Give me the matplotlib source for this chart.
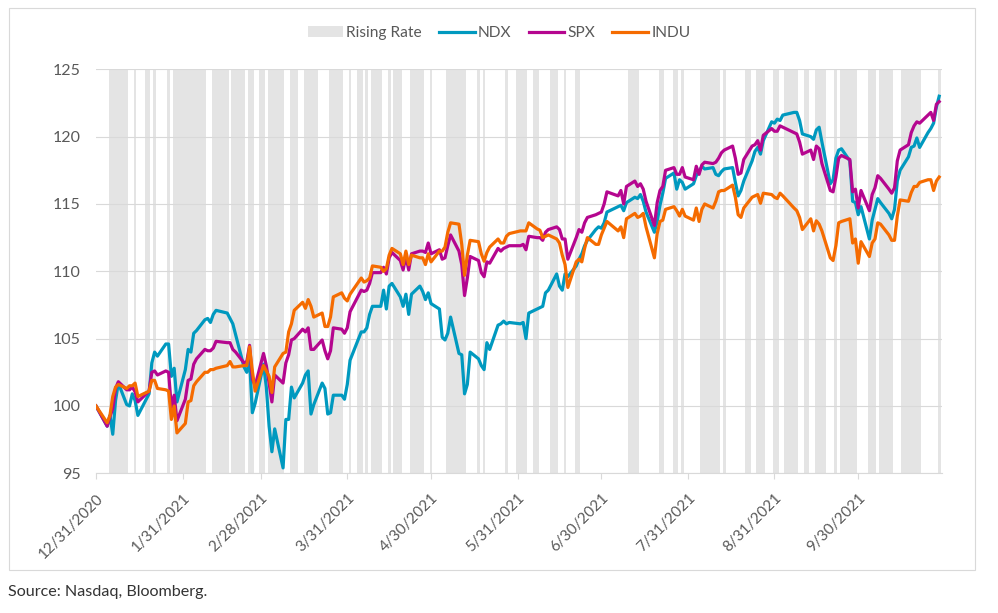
import pandas as pd
import matplotlib
matplotlib.use("Agg")
import matplotlib.pyplot as plt
from matplotlib.patches import Patch, Rectangle
from matplotlib.lines import Line2D

plt.rcParams['font.family'] = ['Lato', 'DejaVu Sans']

# trading days: 12/31/2020 then 2021 business days without market holidays
holidays = ["2021-01-18", "2021-02-15", "2021-04-02", "2021-05-31",
            "2021-07-05", "2021-09-06"]
dates = pd.bdate_range("2021-01-04", "2021-10-29")
dates = dates[~dates.isin(pd.to_datetime(holidays))]
dates = dates.insert(0, pd.Timestamp("2020-12-31"))

# index levels, 12/31/2020 = 100
ndx = [100.0,
       98.5, 99.3, 97.9, 100.4, 101.7, 100.1, 100.0, 100.9, 100.4, 99.3,
       100.9, 103.2, 104.0, 103.7, 104.6, 104.6, 102.2, 102.8, 100.3,
       102.7, 104.2, 104.0, 105.4, 105.6, 106.4, 106.5, 106.2, 106.8, 107.1,
       106.9, 106.5, 106.1, 105.3, 102.9, 102.5, 103.4, 99.5, 100.2,
       103.1, 101.4, 98.5, 96.6, 98.3, 95.4, 99.0, 99.0, 101.4, 100.6,
       101.7, 102.3, 102.6, 99.4, 100.1, 101.7, 101.3, 99.4, 99.5, 100.8,
       100.8, 100.5, 101.6,
       103.4, 105.5, 105.5, 105.8, 106.8, 107.4, 107.4, 108.6, 107.2, 108.9,
       109.1, 108.1, 107.4, 108.3, 106.8, 108.3, 108.9, 108.5, 107.9, 108.4,
       107.6,
       107.2, 105.1, 104.9, 105.4, 106.6, 103.9, 103.8, 100.9, 101.6, 104.0,
       103.5, 103.0, 102.7, 104.7, 104.2, 106.0, 106.1, 106.3, 106.1, 106.2,
       106.1, 106.2, 105.0, 106.9, 107.2, 107.3, 107.4, 108.4, 108.6, 109.8,
       108.9, 108.6, 109.8, 109.6, 110.4, 110.9, 111.3, 111.9, 112.3, 113.1,
       113.3, 113.2,
       113.6, 114.4, 114.8, 114.9, 114.5, 115.1, 115.5, 115.4, 115.7, 115.2,
       114.4, 112.9, 113.7, 114.9, 115.8, 116.9, 117.3, 116.1, 116.8, 116.6,
       116.1,
       116.5, 117.1, 117.4, 117.8, 117.6, 117.7, 117.2, 117.1, 117.4, 117.6,
       117.7, 116.6, 115.6, 116.0, 116.7, 118.2, 118.9, 119.2, 118.7, 119.7,
       121.1, 121.0,
       121.3, 121.2, 121.6, 121.8, 121.8, 121.2, 120.2, 120.0, 119.8, 120.5,
       120.7, 119.6, 116.5, 116.8, 118.4, 119.0, 119.1, 118.2, 115.2, 115.1,
       114.2,
       114.8, 112.4, 113.8, 114.6, 115.4, 115.1, 114.3, 113.9, 114.6, 116.7,
       117.5, 118.5, 119.2, 119.3, 119.9, 119.2, 120.3, 120.6, 121.0, 122.2,
       123.0]

spx = [100.0,
       98.5, 99.2, 99.8, 101.3, 101.8, 101.2, 101.2, 101.4, 101.05, 100.3,
       101.1, 102.5, 102.6, 102.3, 102.6, 102.5, 99.9, 100.8, 98.9,
       100.5, 101.9, 102.0, 103.1, 103.5, 104.2, 104.1, 104.1, 104.3, 104.8,
       104.7, 104.7, 104.2, 104.0, 103.2, 103.3, 104.5, 102.0, 101.5,
       103.9, 103.0, 101.7, 100.3, 102.3, 101.7, 103.2, 103.8, 104.9, 105.0,
       105.7, 105.5, 105.8, 104.2, 104.2, 104.9, 104.1, 103.5, 104.1, 105.8,
       105.7, 105.4, 105.8,
       107.0, 108.6, 108.5, 108.6, 109.1, 109.9, 109.9, 110.3, 109.8, 111.0,
       111.4, 110.8, 110.1, 111.1, 110.1, 111.3, 111.5, 111.5, 111.4, 112.1,
       111.3,
       111.6, 110.9, 111.0, 111.9, 112.7, 111.5, 110.5, 108.2, 109.5, 111.1,
       110.8, 109.9, 109.6, 110.7, 110.6, 111.7, 111.5, 111.7, 111.8, 111.9,
       111.9, 112.0, 111.6, 112.6, 112.5, 112.5, 112.3, 112.9, 113.1, 113.3,
       113.1, 112.4, 112.4, 110.9, 112.5, 113.1, 112.9, 113.6, 114.0, 114.2,
       114.3, 114.4,
       115.0, 115.9, 115.6, 116.0, 115.0, 116.3, 116.7, 116.3, 116.5, 116.1,
       115.2, 113.4, 115.1, 116.0, 116.3, 117.5, 117.7, 117.2, 117.2, 117.7,
       117.0,
       116.8, 117.8, 117.2, 117.9, 118.1, 118.0, 118.1, 118.4, 118.8, 119.0,
       119.3, 118.4, 117.2, 117.3, 118.3, 119.3, 119.4, 119.7, 119.0, 120.1,
       120.6, 120.4,
       120.4, 120.8, 120.7, 120.3, 120.2, 119.6, 118.7, 119.0, 118.3, 119.3,
       119.1, 118.0, 116.0, 115.9, 117.0, 118.4, 118.6, 118.3, 115.9, 116.1,
       114.7,
       116.0, 114.5, 115.7, 116.2, 117.1, 116.9, 116.1, 115.8, 116.2, 118.2,
       119.0, 119.4, 120.3, 120.8, 121.1, 121.0, 121.6, 121.8, 121.2, 122.4,
       122.6]

indu = [100.0,
        98.75, 99.3, 100.7, 101.4, 101.6, 101.3, 101.5, 101.5, 101.7, 100.7,
        101.1, 101.9, 101.9, 101.3, 101.2, 101.1, 99.0, 100.0, 98.0,
        98.7, 100.3, 100.4, 101.5, 101.8, 102.5, 102.5, 102.7, 102.7, 102.8,
        103.0, 103.3, 102.9, 102.9, 103.0, 103.0, 104.4, 102.6, 101.1,
        103.0, 102.6, 102.2, 101.0, 102.9, 103.9, 104.0, 105.5, 106.1, 107.1,
        107.7, 107.25, 107.9, 107.4, 106.6, 106.9, 105.9, 105.9, 106.6, 108.1,
        108.4, 108.0, 107.8,
        108.3, 109.5, 109.2, 109.3, 109.5, 110.4, 110.3, 110.0, 110.2, 111.2,
        111.7, 111.3, 110.5, 111.5, 110.5, 111.2, 111.0, 111.0, 110.5, 111.3,
        110.7,
        111.5, 111.5, 111.8, 112.9, 113.6, 113.5, 112.0, 109.7, 111.2, 112.3,
        112.2, 111.3, 110.75, 111.4, 111.8, 112.4, 112.1, 112.1, 112.6, 112.8,
        113.0, 113.0, 113.0, 113.6, 113.15, 113.05, 112.5, 112.6, 112.7, 112.4,
        112.1, 111.2, 110.5, 108.8, 110.7, 110.9, 110.7, 111.7, 112.5, 112.0,
        112.0, 112.7,
        113.2, 113.7, 113.0, 113.3, 112.5, 113.9, 114.3, 114.0, 114.1, 114.3,
        113.3, 111.0, 112.8, 113.7, 113.8, 114.6, 114.8, 114.5, 114.1, 114.6,
        114.1,
        113.8, 114.7, 113.7, 114.6, 115.0, 114.7, 115.2, 115.9, 116.0, 116.0,
        116.4, 115.5, 114.2, 114.0, 114.7, 115.5, 115.6, 115.7, 115.05, 115.8,
        115.7, 115.5,
        115.4, 115.8, 115.6, 114.7, 114.5, 114.0, 113.1, 113.9, 113.0, 113.75,
        113.5, 113.0, 111.0, 110.8, 111.9, 113.6, 113.7, 113.9, 112.1, 112.4,
        110.6,
        112.2, 111.1, 112.1, 112.4, 113.6, 113.5, 112.7, 112.3, 112.3, 114.1,
        115.3, 115.2, 115.85, 116.3, 116.3, 116.6, 116.8, 116.8, 116.0, 116.7,
        117.0]

# rising rate periods (first day, last day)
rising_start = ["2021-01-05", "2021-01-14", "2021-01-18", "2021-01-21", "2021-01-26",
                "2021-01-28", "2021-02-11", "2021-02-18", "2021-02-24", "2021-02-28",
                "2021-03-03", "2021-03-11", "2021-03-16", "2021-03-25", "2021-04-01",
                "2021-04-04", "2021-04-07", "2021-04-09", "2021-04-15", "2021-04-17",
                "2021-04-23", "2021-04-30", "2021-05-06", "2021-05-17", "2021-05-19",
                "2021-05-27", "2021-05-31", "2021-06-06", "2021-06-12", "2021-06-17",
                "2021-06-21", "2021-07-10", "2021-07-21", "2021-07-26", "2021-07-29",
                "2021-08-05", "2021-08-13", "2021-08-21", "2021-08-25", "2021-08-31",
                "2021-09-04", "2021-09-11", "2021-09-15", "2021-09-22", "2021-09-24",
                "2021-10-04", "2021-10-08", "2021-10-16", "2021-10-29"]
rising_end = ["2021-01-11", "2021-01-14", "2021-01-19", "2021-01-21", "2021-01-26",
              "2021-02-08", "2021-02-16", "2021-02-22", "2021-02-25", "2021-03-01",
              "2021-03-08", "2021-03-13", "2021-03-20", "2021-03-29", "2021-04-01",
              "2021-04-05", "2021-04-07", "2021-04-12", "2021-04-15", "2021-04-19",
              "2021-04-27", "2021-04-30", "2021-05-12", "2021-05-17", "2021-05-19",
              "2021-05-27", "2021-06-03", "2021-06-07", "2021-06-14", "2021-06-17",
              "2021-06-22", "2021-07-13", "2021-07-22", "2021-07-27", "2021-07-29",
              "2021-08-11", "2021-08-13", "2021-08-22", "2021-08-27", "2021-09-01",
              "2021-09-08", "2021-09-12", "2021-09-18", "2021-09-22", "2021-09-29",
              "2021-10-06", "2021-10-12", "2021-10-22", "2021-10-29"]

tick_dates = ["2020-12-31", "2021-01-31", "2021-02-28", "2021-03-31", "2021-04-30",
              "2021-05-31", "2021-06-30", "2021-07-31", "2021-08-31", "2021-09-30"]
tick_labels = ["12/31/2020", "1/31/2021", "2/28/2021", "3/31/2021", "4/30/2021",
               "5/31/2021", "6/30/2021", "7/31/2021", "8/31/2021", "9/30/2021"]

c_ndx, c_spx, c_indu, c_rise = "#0099BF", "#B5068F", "#F56B00", "#E4E4E4"
grid_c = "#D9D9D9"
txt_c = "#595959"

fig = plt.figure(figsize=(9.98, 6.13), dpi=100)
ax = fig.add_axes([96 / 998, 1 - 473.3 / 613, (941.7 - 96) / 998, (473.3 - 69.3) / 613])

half = pd.Timedelta(hours=12)
for s, e in zip(rising_start, rising_end):
    ax.axvspan(pd.Timestamp(s) - half, pd.Timestamp(e) + half,
               color=c_rise, lw=0, zorder=0)

ax.plot(dates, ndx, color=c_ndx, lw=2.3, zorder=3, solid_joinstyle='round')
ax.plot(dates, spx, color=c_spx, lw=2.3, zorder=4, solid_joinstyle='round')
ax.plot(dates, indu, color=c_indu, lw=2.3, zorder=5, solid_joinstyle='round')

ax.set_ylim(95, 125)
ax.set_yticks(range(95, 126, 5))
ax.set_xlim(pd.Timestamp("2020-12-31"), pd.Timestamp("2020-12-31") + pd.Timedelta(days=302.9))
ax.set_xticks(pd.to_datetime(tick_dates))
ax.set_xticklabels(tick_labels, rotation=45, ha='right', va='top',
                   rotation_mode='anchor')

ax.grid(axis='y', color=grid_c, lw=0.8, zorder=1)
ax.set_axisbelow(False)
for side in ['left', 'right', 'top']:
    ax.spines[side].set_visible(False)
ax.spines['bottom'].set_color(grid_c)
ax.spines['bottom'].set_linewidth(0.8)
ax.spines['bottom'].set_zorder(1)
ax.tick_params(axis='y', length=0, pad=11, labelsize=11.5, labelcolor=txt_c)
ax.tick_params(axis='x', length=4, width=0.8, color=grid_c, direction='out',
               pad=9, labelsize=11, labelcolor=txt_c)

handles = [Patch(facecolor=c_rise, edgecolor='none', label='Rising Rate'),
           Line2D([], [], color=c_ndx, lw=2.3, label='NDX'),
           Line2D([], [], color=c_spx, lw=2.3, label='SPX'),
           Line2D([], [], color=c_indu, lw=2.3, label='INDU')]
fig.legend(handles=handles, loc='center', bbox_to_anchor=(0.5, 1 - 33 / 613),
           ncol=4, frameon=False, fontsize=11.2, handlelength=2.3,
           handletextpad=0.2, columnspacing=1.1, labelcolor=txt_c)

fig.add_artist(Rectangle((9 / 998, 1 - 570 / 613), 966 / 998, 562 / 613,
                         transform=fig.transFigure, fill=False,
                         edgecolor=grid_c, lw=0.8))
fig.text(8 / 998, 1 - 592 / 613, "Source: Nasdaq, Bloomberg.", fontsize=11.6,
         color="#333333", va='center', ha='left')

fig.savefig("out.png", dpi=100)
